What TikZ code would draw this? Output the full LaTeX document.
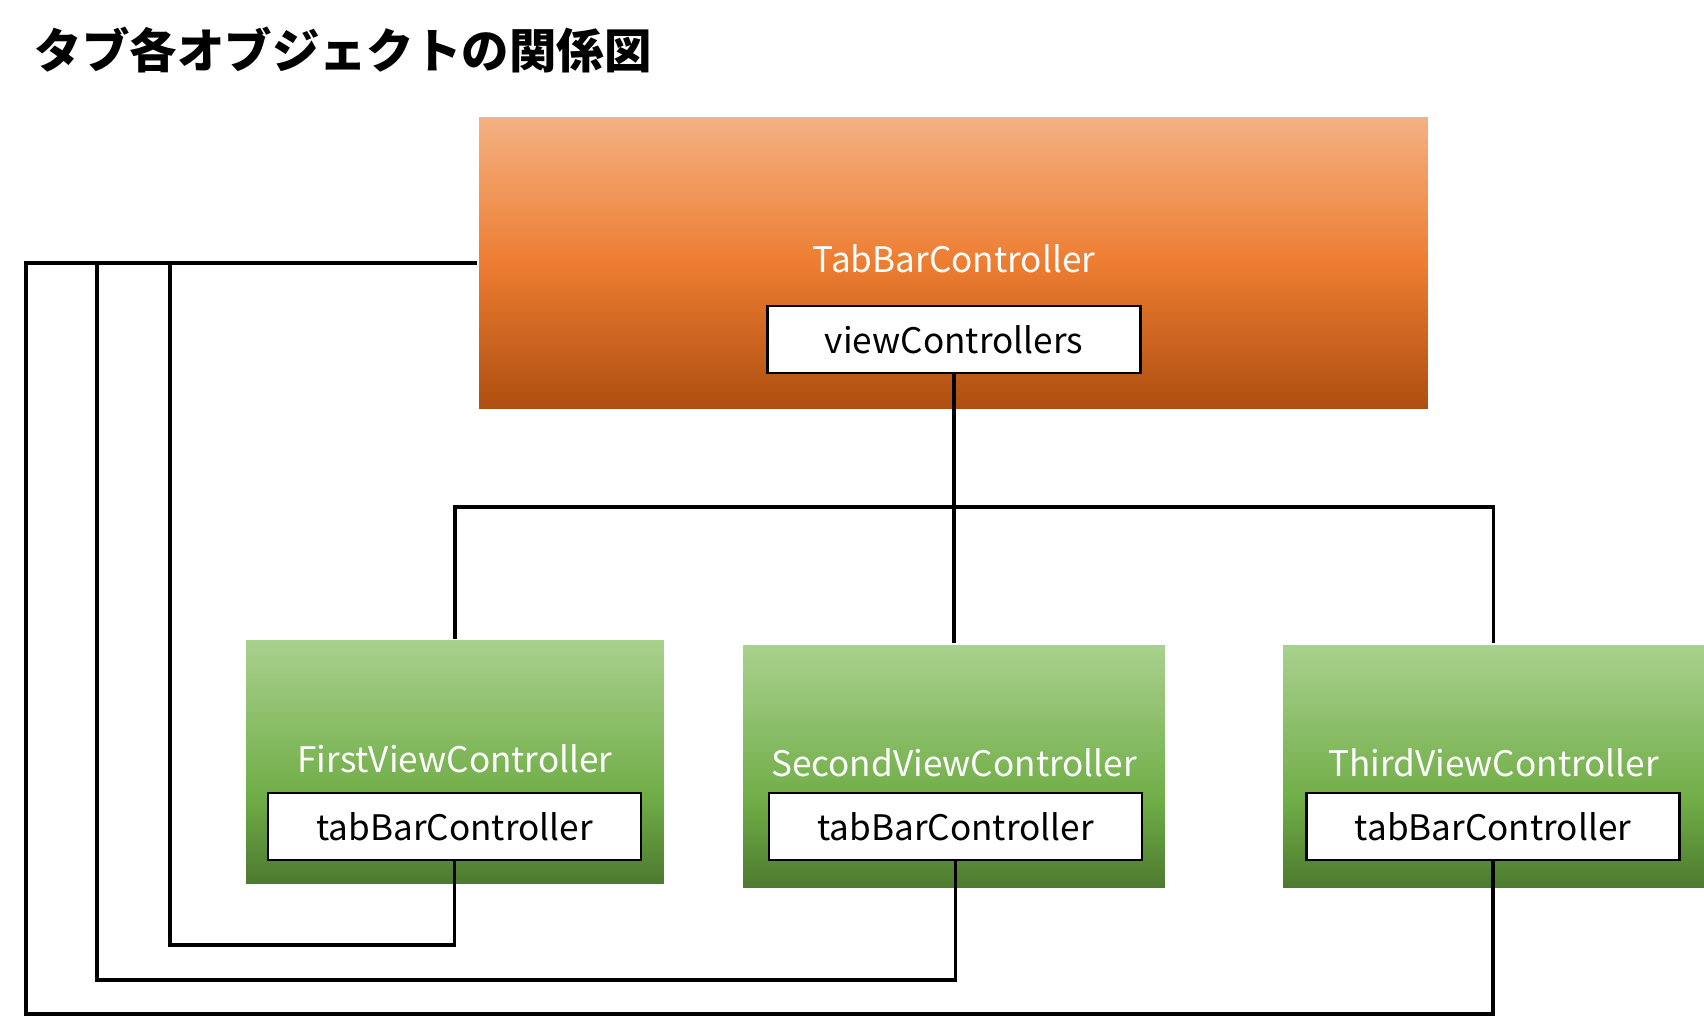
\documentclass[tikz,border=0pt]{standalone}
\usepackage{fontspec}
\setmainfont{Noto Sans CJK JP}
\usetikzlibrary{positioning}
\definecolor{orangetop}{RGB}{244,177,131}
\definecolor{orangemid}{RGB}{237,125,49}
\definecolor{orangebot}{RGB}{174,78,16}
\definecolor{greentop}{RGB}{169,209,142}
\definecolor{greenmid}{RGB}{112,173,71}
\definecolor{greenbot}{RGB}{76,122,46}
\pgfdeclareverticalshading{orangefade}{100bp}{color(0bp)=(orangebot); color(25bp)=(orangebot); color(50bp)=(orangemid); color(75bp)=(orangetop); color(100bp)=(orangetop)}
\pgfdeclareverticalshading{greenfade}{100bp}{color(0bp)=(greenbot); color(25bp)=(greenbot); color(43bp)=(greenmid); color(75bp)=(greentop); color(100bp)=(greentop)}

\begin{document}
\begin{tikzpicture} [%
    x = 0.02cm,
    y = -0.02cm,
    line width = 2.2pt,
    node distance = 1.3cm,
    on grid,
    every node/.style = {inner sep = 0pt},
    tabbox/.style = {%
      rectangle,
      shading = orangefade,
      minimum width = 18.98cm,
      minimum height = 5.84cm },
    viewbox/.style = {%
      rectangle,
      shading = greenfade,
      minimum height = 4.86cm },
    propbox/.style = {%
      rectangle,
      draw,
      fill = white,
      line width = 1.4pt,
      minimum width = 7.46cm,
      minimum height = 1.34cm,
      font = \fontsize{20}{24}\selectfont },
    classname/.style = {%
      text = white,
      font = \fontsize{20}{24}\selectfont }
  ]

  \useasboundingbox (0,0) rectangle (1704,1018);

  \node[anchor=west, font=\fontsize{27}{32}\selectfont\bfseries] (title) at (33,50) {タブ各オブジェクトの関係図};

  \node[tabbox] (tbc) at (953.5,263) {};
  \node[classname] (tbcname) at (954,259) {TabBarController};
  \node[propbox] (vc) [below=1.61cm of tbcname] {viewControllers};

  \node[viewbox, minimum width=8.36cm] (first) at (455,762) {};
  \node[viewbox, minimum width=8.44cm] (second) at (954,766.5) {};
  \node[viewbox, minimum width=8.42cm] (third) at (1493.5,766.5) {};

  \node[classname] (firstname) at (455,759) {FirstViewController};
  \node[classname] (secondname) at (954,763) {SecondViewController};
  \node[classname] (thirdname) at (1493.5,763) {ThirdViewController};

  \node[propbox] (tab1) at (454.5,826.5) {tabBarController};
  \node[propbox] (tab2) at (955.5,826.5) {tabBarController};
  \node[propbox] (tab3) at (1493,826.5) {tabBarController};

  \coordinate (hub) at (954,507);
  \coordinate (loop1) at (170,945);
  \coordinate (loop2) at (97,980);
  \coordinate (loop3) at (26,1014);

  \draw (vc.south) -- (hub) -- (second.north);
  \draw (first.north) |- (hub) -| (third.north);

  \draw (tab1.south) |- (loop1) |- (tbc.west);
  \draw (tab2.south) |- (loop2) |- (tbc.west);
  \draw (tab3.south) |- (loop3) |- (tbc.west);

\end{tikzpicture}
\end{document}
